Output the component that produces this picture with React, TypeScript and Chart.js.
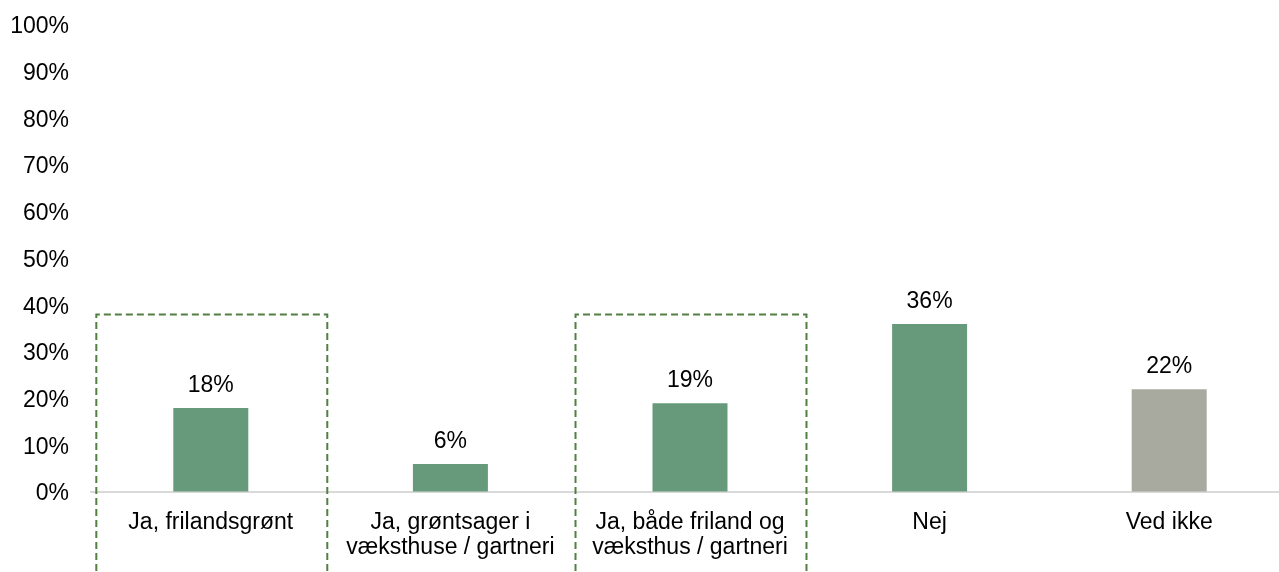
import React, { useEffect, useRef } from "react";
import { Chart, registerables } from "chart.js";

Chart.register(...registerables);

const categories: (string | string[])[] = [
  "Ja, frilandsgrønt",
  ["Ja, grøntsager i", "væksthuse / gartneri"],
  ["Ja, både friland og", "væksthus / gartneri"],
  "Nej",
  "Ved ikke",
];
const values = [18, 6, 19, 36, 22];
const barColors = ["#669A7B", "#669A7B", "#669A7B", "#669A7B", "#A9AA9F"];
const highlighted = [0, 2];
const highlightTop = 38;
const yTicks = [0, 10, 20, 30, 40, 50, 60, 70, 80, 90, 100];

const FONT = "'Liberation Sans', Arial, sans-serif";
const FS = 23;

const labelPlugin = {
  id: "valueLabels",
  afterDatasetsDraw(chart: any) {
    const ctx = chart.ctx;
    const meta = chart.getDatasetMeta(0);
    ctx.save();
    ctx.font = `${FS}px ${FONT}`;
    ctx.fillStyle = "#000";
    ctx.textAlign = "center";
    ctx.textBaseline = "alphabetic";
    meta.data.forEach((bar: any, i: number) => {
      ctx.fillText(`${values[i]}%`, bar.x, bar.y - 16);
    });
    ctx.restore();
  },
};

const boxPlugin = {
  id: "highlightBoxes",
  afterDraw(chart: any) {
    const ctx = chart.ctx;
    const x = chart.scales.x;
    const y = chart.scales.y;
    const half = (x.getPixelForValue(1) - x.getPixelForValue(0)) * 0.482;
    const top = y.getPixelForValue(highlightTop);
    const bottom = chart.height + 10;
    ctx.save();
    ctx.strokeStyle = "#527F42";
    ctx.lineWidth = 2;
    ctx.setLineDash([7, 4]);
    highlighted.forEach((idx) => {
      const cx = x.getPixelForValue(idx) + 1;
      ctx.beginPath();
      ctx.moveTo(cx - half, bottom);
      ctx.lineTo(cx - half, top);
      ctx.lineTo(cx + half, top);
      ctx.lineTo(cx + half, bottom);
      ctx.stroke();
    });
    ctx.restore();
  },
};

export default function App() {
  const ref = useRef<HTMLCanvasElement>(null);
  useEffect(() => {
    document.body.style.margin = "0";
    const chart = new Chart(ref.current!, {
      type: "bar",
      data: {
        labels: categories,
        datasets: [
          {
            data: values,
            backgroundColor: barColors,
            borderWidth: 0,
            categoryPercentage: 1,
            barPercentage: 0.313,
          },
        ],
      },
      options: {
        animation: false,
        responsive: false,
        maintainAspectRatio: false,
        layout: { padding: { top: 25, right: 10, bottom: 0, left: 0 } },
        plugins: { legend: { display: false }, tooltip: { enabled: false } },
        scales: {
          x: {
            grid: { display: false, drawTicks: false },
            border: { display: true, color: "#D9D9D9", width: 2 },
            ticks: {
              color: "#000",
              font: { family: FONT, size: FS, lineHeight: 1.05 },
              padding: 19,
              maxRotation: 0,
              autoSkip: false,
            },
            afterFit: (s: any) => {
              s.height = 80;
            },
          },
          y: {
            min: 0,
            max: 100,
            afterBuildTicks: (s: any) => {
              s.ticks = yTicks.map((v) => ({ value: v }));
            },
            grid: {
              display: true,
              drawOnChartArea: false,
              drawTicks: true,
              tickLength: 22,
              color: "rgba(0,0,0,0)",
            },
            border: { display: false },
            ticks: {
              color: "#000",
              font: { family: FONT, size: FS },
              padding: 0,
              labelOffset: 2,
              callback: (v: any) => `${v}%`,
            },
            afterFit: (s: any) => {
              s.width = 91;
            },
          },
        },
      },
      plugins: [labelPlugin, boxPlugin],
    });
    return () => chart.destroy();
  }, []);
  return (
    <div style={{ width: 1279, height: 572, overflow: "hidden", position: "relative" }}>
      <canvas ref={ref} width={1299} height={572} style={{ display: "block" }} />
    </div>
  );
}
